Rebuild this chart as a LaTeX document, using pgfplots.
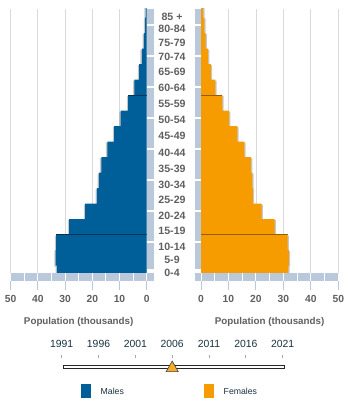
\documentclass[border=0pt]{standalone}
\usepackage{fontspec}
\setmainfont{Liberation Sans}
\usepackage{pgfplots}
\usepackage{pgfplotstable}
\pgfplotsset{compat=1.18}
\definecolor{male}{RGB}{0,95,152}
\definecolor{female}{RGB}{246,156,0}
\definecolor{strip}{RGB}{185,200,218}
\definecolor{labgray}{RGB}{95,95,95}
\definecolor{gridc}{RGB}{218,218,218}
\definecolor{navy}{RGB}{25,50,65}
\definecolor{slidero}{RGB}{245,172,40}

\pgfplotstableread{
idx value
0 33.0
1 33.5
2 33.3
3 28.5
4 22.6
5 18.3
6 17.6
7 16.7
8 14.5
9 12.0
10 9.6
11 6.8
12 4.5
13 2.8
14 1.8
15 1.0
16 0.6
17 0.4
}\males

\pgfplotstableread{
idx value
0 31.8
1 32.0
2 31.5
3 26.8
4 22.1
5 18.9
6 18.7
7 18.2
8 15.8
9 13.2
10 10.2
11 7.8
12 5.2
13 3.6
14 2.55
15 1.7
16 1.2
17 0.8
}\females

\pgfplotsset{pyr/.style={
  scale only axis, height=263.7pt,
  ymin=0.05, ymax=17.06, xmin=0, xmax=50,
  axis line style={draw=none},
  ytick=\empty, xtick={0,10,...,50},
  xmajorgrids, grid style={gridc, line width=0.8pt},
  major tick length=0pt, tick style={draw=none},
  /pgf/number format/assume math mode=true,
  xticklabel style={anchor=center, yshift=-26.3pt, font=\fontsize{10.3}{12}\selectfont\bfseries, text=labgray},
  xlabel={Population (thousands)},
  xlabel style={at={(axis description cs:0.5,0)}, anchor=center, yshift=-49.3pt, font=\fontsize{9.8}{12}\selectfont\bfseries, text=labgray},
}}

\begin{document}
\begin{tikzpicture}
\useasboundingbox (0,0) rectangle (349pt,401pt);

\begin{scope}[yshift=401pt, x=1pt, y=-1pt]
 % vertical strips
 \fill[strip] (146.7,9) rectangle (154,269.5);
 \fill[strip] (195,9) rectangle (201,269.5);
 \foreach \p in {25,56,87,118,149,180,211,242}{
   \fill[white] (146,\p-0.8) rectangle (155,\p+0.8);
   \fill[white] (194,\p-0.8) rectangle (202,\p+0.8);
 }
 % bottom strips
 \fill[strip] (10.7,273.3) rectangle (154,280.7);
 \fill[strip] (195,273.3) rectangle (338.3,280.7);
 \foreach \j in {0,...,9}{
   \fill[white] ({146.7-13.6*\j-0.5},273) rectangle ({146.7-13.6*\j+0.5},281);
   \fill[white] ({201+13.73*\j-0.5},273) rectangle ({201+13.73*\j+0.5},281);
 }
 % ticks below strip
 \foreach \k in {0,...,5}{
   \draw[strip, line width=1pt] ({146.7-27.2*\k},281) -- ({146.7-27.2*\k},290);
   \draw[strip, line width=1pt] ({201+27.46*\k},281) -- ({201+27.46*\k},290);
 }
 % age labels
 \foreach \lab/\p in {85 +/16.7, 80-84/29.3, 75-79/42.7, 70-74/57.3, 65-69/72, 60-64/88, 55-59/104, 50-54/120, 45-49/136, 40-44/153.3, 35-39/169.3, 30-34/184.7, 25-29/200.3, 20-24/216.3, 15-19/230.7, 10-14/247.3, 5-9/260, 0-4/273.3}{
   \node[font=\fontsize{10.6}{12}\selectfont\bfseries, text=labgray, inner sep=0pt] at (172,\p) {\lab};
 }
 % timeline
 \foreach \k in {0,...,6}{
   \draw[gray!70, line width=0.8pt] ({61.7+36.83*\k},355) -- ({61.7+36.83*\k},358.5);
 }
 \draw[black!85, line width=0.6pt, fill=white] (63,365) rectangle (284,368);
 % legend
 \fill[male] (81,384) rectangle (90.5,398);
 \fill[female] (204,384) rectangle (213.5,398);
 \node[anchor=west, inner sep=0pt, font=\fontsize{8.7}{10}\selectfont, text=navy] at (100.5,391) {Males};
 \node[anchor=west, inner sep=0pt, font=\fontsize{8.7}{10}\selectfont, text=navy] at (223.5,391) {Females};
\end{scope}

% males
\begin{axis}[pyr, at={(10.7pt,128.3pt)}, anchor=south west, width=136pt, x dir=reverse]
 \addplot[xbar, bar width=1, bar shift=0pt, fill=black, fill opacity=0.22, draw=none, xshift=-1.3pt, yshift=-1pt] table[x=value, y=idx] {\males};
 \addplot[xbar, bar width=1, bar shift=0pt, fill=male, draw=none] table[x=value, y=idx] {\males};
 \addplot[draw=male!55!black, line width=0.45pt] coordinates {(0,2.5) (33.3,2.5)};
 \addplot[draw=male!55!black, line width=0.45pt] coordinates {(0,11.5) (6.8,11.5)};
\end{axis}

% females
\begin{axis}[pyr, at={(201pt,128.3pt)}, anchor=south west, width=137.3pt]
 \addplot[xbar, bar width=1, bar shift=0pt, fill=black, fill opacity=0.22, draw=none, xshift=1.3pt, yshift=-1pt] table[x=value, y=idx] {\females};
 \addplot[xbar, bar width=1, bar shift=0pt, fill=female, draw=none] table[x=value, y=idx] {\females};
 \addplot[draw=female!60!black, line width=0.45pt] coordinates {(0,2.5) (31.5,2.5)};
 \addplot[draw=female!60!black, line width=0.45pt] coordinates {(0,11.5) (7.8,11.5)};
\end{axis}

% timeline
\begin{axis}[at={(61.7pt,30pt)}, anchor=south west, scale only axis, width=221pt, height=10pt,
  xmin=1991, xmax=2021, ymin=-1, ymax=1, clip=false,
  axis line style={draw=none}, ytick=\empty, xtick={1991,1996,...,2021},
  tick style={draw=none}, major tick length=0pt,
  xticklabel pos=upper,
  /pgf/number format/set thousands separator={},
  /pgf/number format/assume math mode=true,
  xticklabel style={anchor=center, yshift=17pt, font=\fontsize{10.4}{12}\selectfont, text=navy}]
 \addplot[only marks, mark=triangle*, mark size=7pt, mark options={fill=slidero, draw=black!75, line width=0.6pt}] coordinates {(2006,-0.42)};
\end{axis}
\end{tikzpicture}
\end{document}
